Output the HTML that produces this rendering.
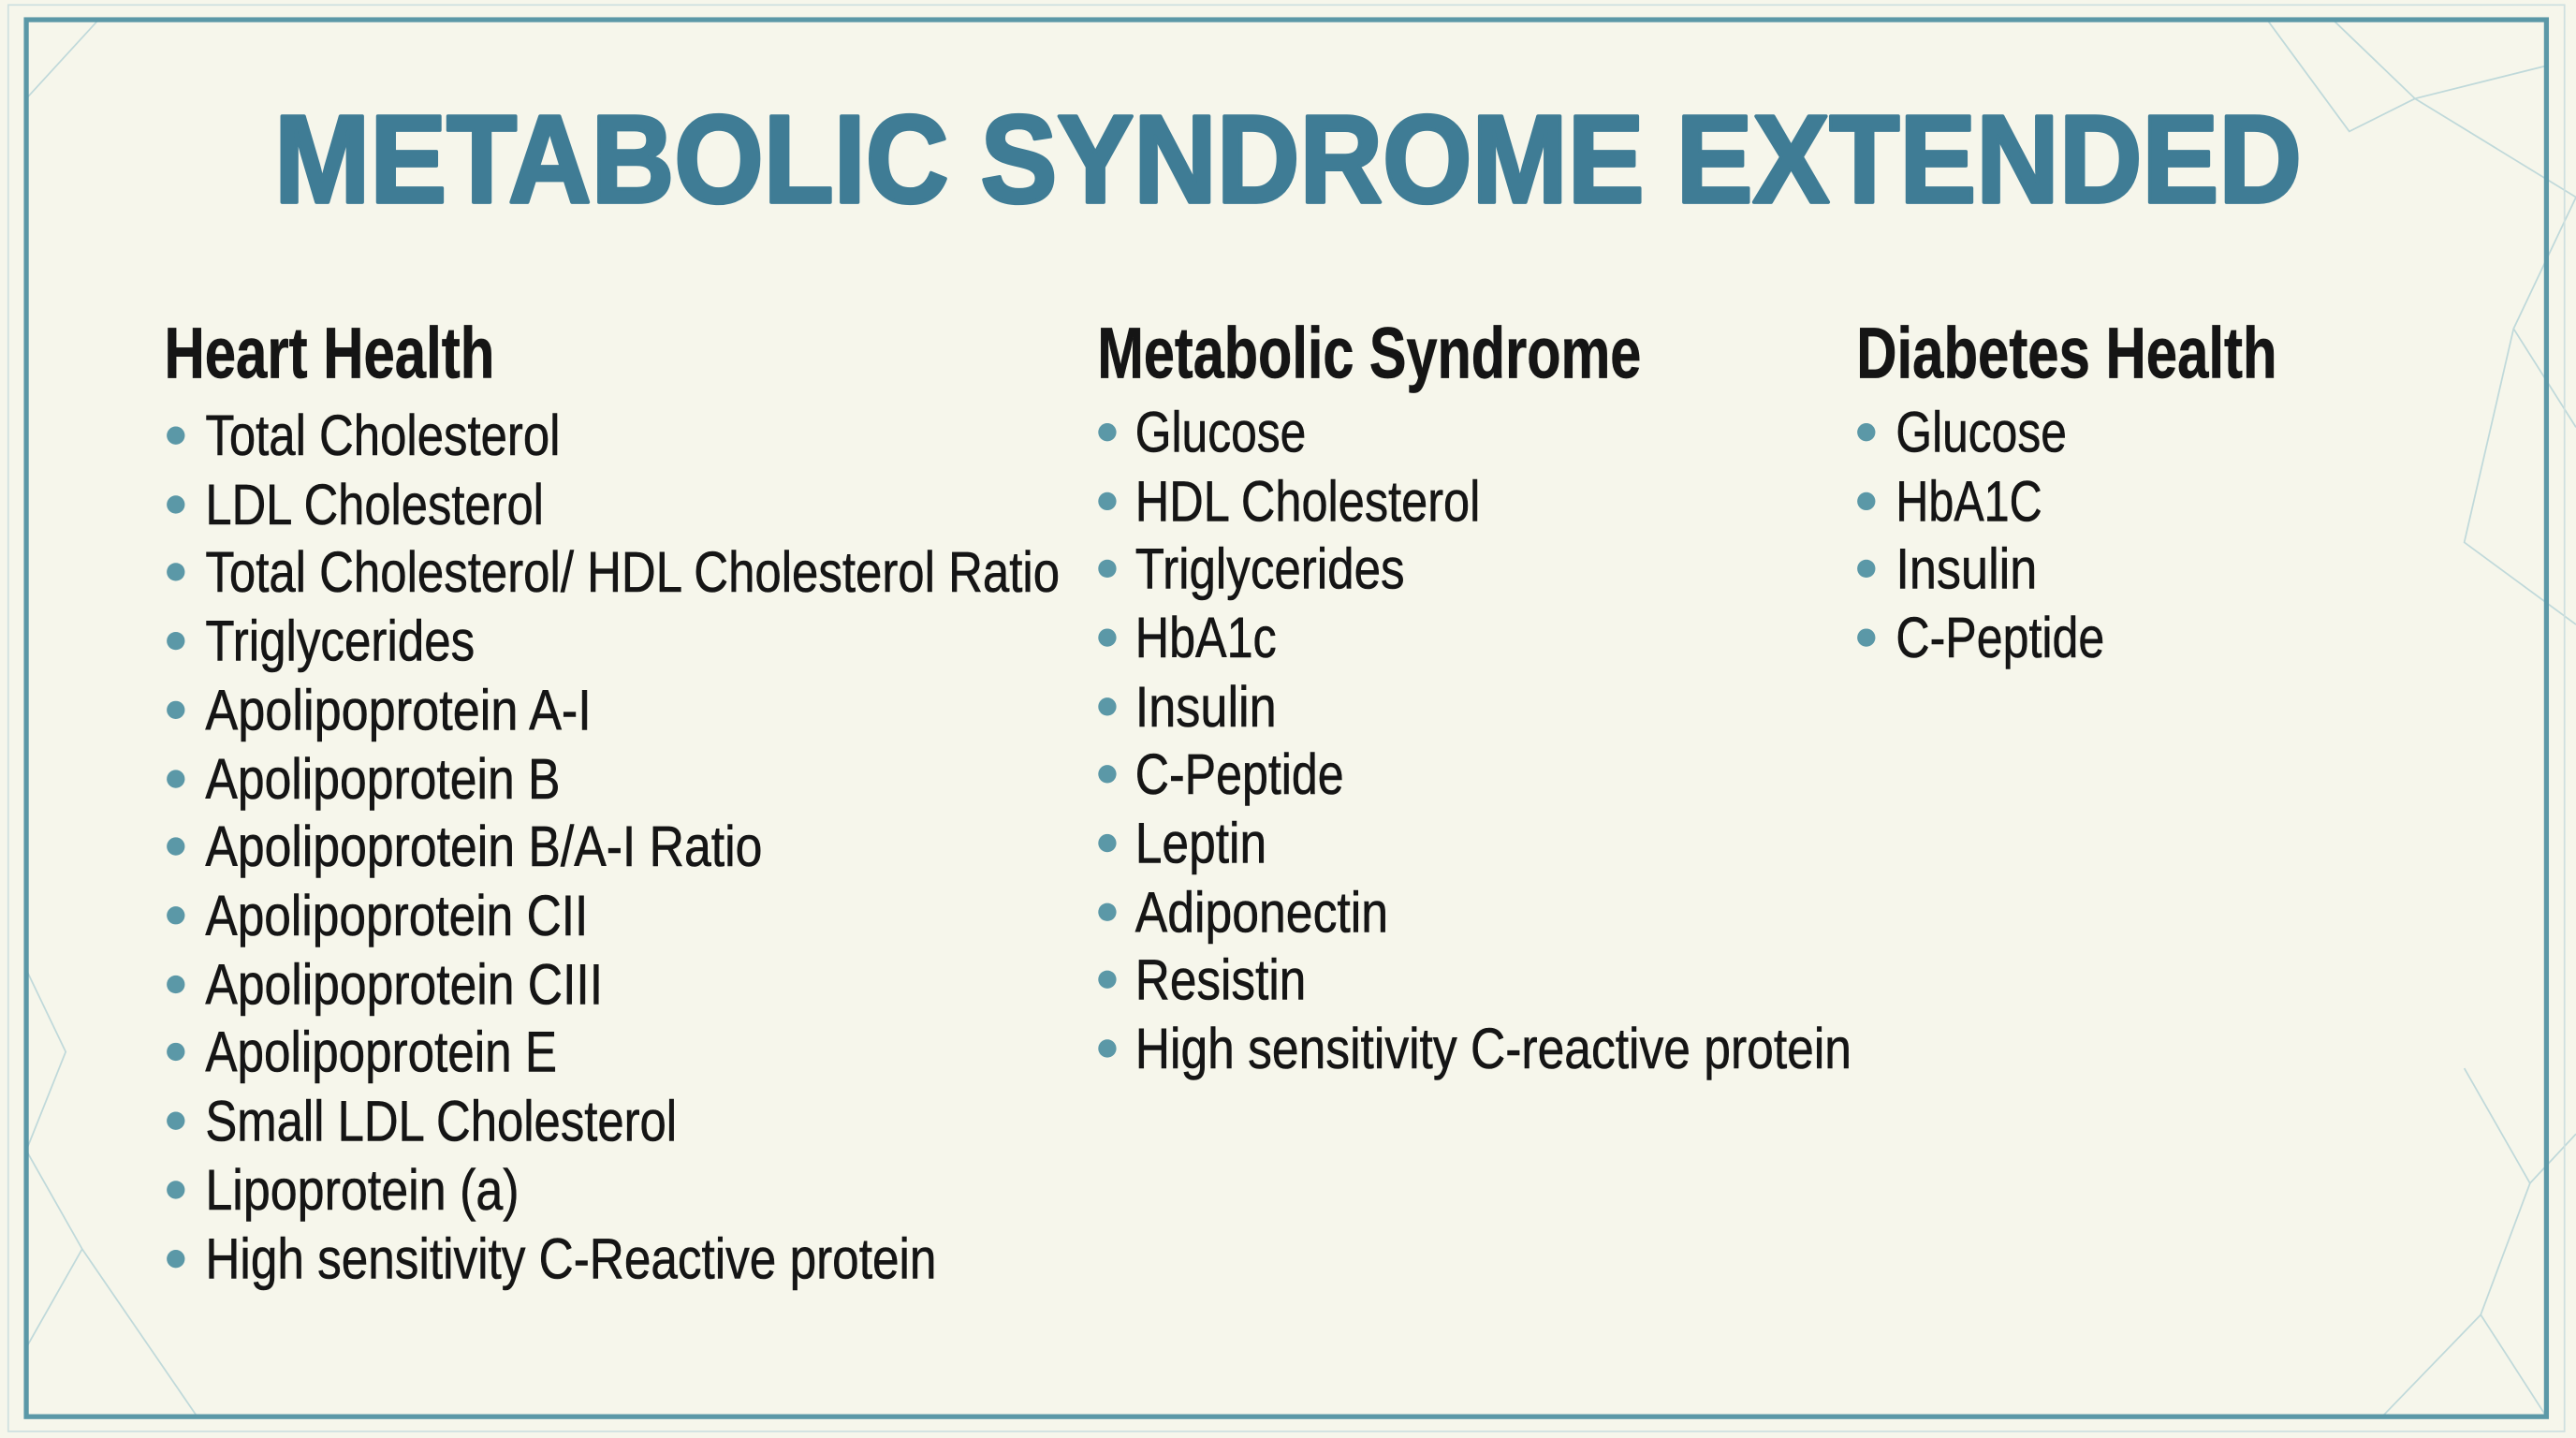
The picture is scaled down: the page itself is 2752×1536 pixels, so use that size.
<!DOCTYPE html>
<html><head><meta charset="utf-8"><style>
html,body{margin:0;padding:0;background:#f5f5ea;}
svg{display:block}
</style></head><body>
<svg width="2752" height="1536" viewBox="0 0 1568 875" preserveAspectRatio="none" xmlns="http://www.w3.org/2000/svg">
<rect x="0" y="0" width="1568" height="875" fill="#f6f6eb"/>
<g stroke="#a9cdd3" stroke-width="1" fill="none" opacity="0.7">
<polyline points="1420,12 1470,60 1550,40"/>
<polyline points="1470,60 1568,120 1530,200 1568,260"/>
<polyline points="1530,200 1500,330 1568,380"/>
<polyline points="1380,12 1430,80 1470,60"/>
<polyline points="1500,650 1540,720 1510,800 1550,862"/>
<polyline points="1540,720 1568,690"/>
<polyline points="1450,862 1510,800"/>
<polyline points="16,700 50,760 16,820"/>
<polyline points="50,760 120,862"/>
<polyline points="16,590 40,640 16,700"/>
<polyline points="60,12 16,60"/>
</g>
<rect x="16" y="12" width="1534" height="850" fill="none" stroke="#5b98a7" stroke-width="3"/>
<rect x="5" y="3" width="1556" height="868" fill="none" stroke="#cfe0e0" stroke-width="1"/>
<text x="167" y="123" textLength="1234" lengthAdjust="spacingAndGlyphs" font-family="Liberation Sans, sans-serif" font-weight="bold" font-size="76" fill="#3f7c95" stroke="#3f7c95" stroke-width="2.2" stroke-linejoin="round">METABOLIC SYNDROME EXTENDED</text>
<g font-family="Liberation Sans, sans-serif" font-weight="bold" font-size="44" fill="#151515" stroke="#151515" stroke-width="0.4">
<text x="100" y="230" textLength="201" lengthAdjust="spacingAndGlyphs">Heart Health</text>
<text x="668" y="230" textLength="331" lengthAdjust="spacingAndGlyphs">Metabolic Syndrome</text>
<text x="1130" y="230" textLength="256" lengthAdjust="spacingAndGlyphs">Diabetes Health</text>
</g>
<g font-family="Liberation Sans, sans-serif" font-size="35" fill="#151515" stroke="#151515" stroke-width="0.35">
<g fill="#5b98a7" stroke="none">
<circle cx="107" cy="265" r="5.5"/><circle cx="107" cy="307" r="5.5"/><circle cx="107" cy="348" r="5.5"/><circle cx="107" cy="390" r="5.5"/><circle cx="107" cy="432" r="5.5"/><circle cx="107" cy="474" r="5.5"/><circle cx="107" cy="515" r="5.5"/><circle cx="107" cy="557" r="5.5"/><circle cx="107" cy="599" r="5.5"/><circle cx="107" cy="640" r="5.5"/><circle cx="107" cy="682" r="5.5"/><circle cx="107" cy="724" r="5.5"/><circle cx="107" cy="766" r="5.5"/>
<circle cx="674" cy="263" r="5.5"/><circle cx="674" cy="305" r="5.5"/><circle cx="674" cy="346" r="5.5"/><circle cx="674" cy="388" r="5.5"/><circle cx="674" cy="430" r="5.5"/><circle cx="674" cy="471" r="5.5"/><circle cx="674" cy="513" r="5.5"/><circle cx="674" cy="555" r="5.5"/><circle cx="674" cy="596" r="5.5"/><circle cx="674" cy="638" r="5.5"/>
<circle cx="1136" cy="263" r="5.5"/><circle cx="1136" cy="305" r="5.5"/><circle cx="1136" cy="346" r="5.5"/><circle cx="1136" cy="388" r="5.5"/>
</g>
<text x="125" y="277" textLength="216" lengthAdjust="spacingAndGlyphs">Total Cholesterol</text>
<text x="125" y="319" textLength="206" lengthAdjust="spacingAndGlyphs">LDL Cholesterol</text>
<text x="125" y="360" textLength="520" lengthAdjust="spacingAndGlyphs">Total Cholesterol/ HDL Cholesterol Ratio</text>
<text x="125" y="402" textLength="164" lengthAdjust="spacingAndGlyphs">Triglycerides</text>
<text x="125" y="444" textLength="235" lengthAdjust="spacingAndGlyphs">Apolipoprotein A-I</text>
<text x="125" y="486" textLength="216" lengthAdjust="spacingAndGlyphs">Apolipoprotein B</text>
<text x="125" y="527" textLength="339" lengthAdjust="spacingAndGlyphs">Apolipoprotein B/A-I Ratio</text>
<text x="125" y="569" textLength="233" lengthAdjust="spacingAndGlyphs">Apolipoprotein CII</text>
<text x="125" y="611" textLength="242" lengthAdjust="spacingAndGlyphs">Apolipoprotein CIII</text>
<text x="125" y="652" textLength="214" lengthAdjust="spacingAndGlyphs">Apolipoprotein E</text>
<text x="125" y="694" textLength="287" lengthAdjust="spacingAndGlyphs">Small LDL Cholesterol</text>
<text x="125" y="736" textLength="191" lengthAdjust="spacingAndGlyphs">Lipoprotein (a)</text>
<text x="125" y="778" textLength="445" lengthAdjust="spacingAndGlyphs">High sensitivity C-Reactive protein</text>
<text x="691" y="275" textLength="104" lengthAdjust="spacingAndGlyphs">Glucose</text>
<text x="691" y="317" textLength="210" lengthAdjust="spacingAndGlyphs">HDL Cholesterol</text>
<text x="691" y="358" textLength="164" lengthAdjust="spacingAndGlyphs">Triglycerides</text>
<text x="691" y="400" textLength="86" lengthAdjust="spacingAndGlyphs">HbA1c</text>
<text x="691" y="442" textLength="86" lengthAdjust="spacingAndGlyphs">Insulin</text>
<text x="691" y="483" textLength="127" lengthAdjust="spacingAndGlyphs">C-Peptide</text>
<text x="691" y="525" textLength="80" lengthAdjust="spacingAndGlyphs">Leptin</text>
<text x="691" y="567" textLength="154" lengthAdjust="spacingAndGlyphs">Adiponectin</text>
<text x="691" y="608" textLength="104" lengthAdjust="spacingAndGlyphs">Resistin</text>
<text x="691" y="650" textLength="436" lengthAdjust="spacingAndGlyphs">High sensitivity C-reactive protein</text>
<text x="1154" y="275" textLength="104" lengthAdjust="spacingAndGlyphs">Glucose</text>
<text x="1154" y="317" textLength="89" lengthAdjust="spacingAndGlyphs">HbA1C</text>
<text x="1154" y="358" textLength="86" lengthAdjust="spacingAndGlyphs">Insulin</text>
<text x="1154" y="400" textLength="127" lengthAdjust="spacingAndGlyphs">C-Peptide</text>
</g>
</svg>
</body></html>
